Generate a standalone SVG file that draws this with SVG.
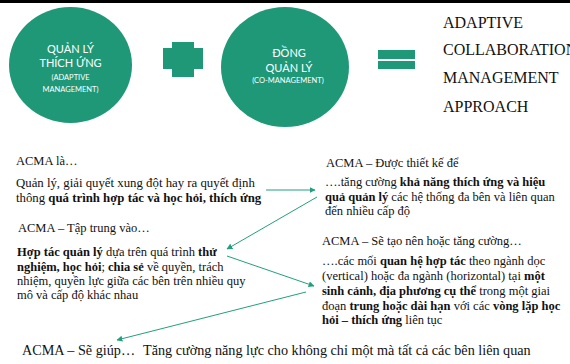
<svg xmlns="http://www.w3.org/2000/svg" width="570" height="364" viewBox="0 0 570 364">
<defs>
<style>
.circ{fill:#1f9878;}
.ct{font-family:Lato,"Open Sans","Liberation Sans",sans-serif;fill:#ffffff;text-anchor:middle;}
.big{font-size:11px;}
.sm{font-size:7.5px;}
.t{font-family:"Liberation Serif","Times New Roman",serif;fill:#111111;}
.h{font-size:12.5px;}
.b13{font-size:12.8px;}
.b14{font-size:14.2px;}
.bo{font-weight:bold;}
.r{font-family:"Liberation Serif","Times New Roman",serif;font-size:16px;fill:#111111;}
.con{stroke:#22a07c;stroke-width:1;fill:none;}
</style>
<marker id="ah" viewBox="0 0 10 10" refX="9" refY="5" markerWidth="6" markerHeight="6" markerUnits="userSpaceOnUse" orient="auto">
<path d="M0,0 L10,5 L0,10 z" fill="#22a07c"/>
</marker>
</defs>
<rect x="0" y="0" width="570" height="3" fill="#000000"/>
<g id="adaptive">
<ellipse class="circ" cx="70.5" cy="65" rx="61.5" ry="58"/>
<text class="ct big" x="70.5" y="53">QUẢN LÝ</text>
<text class="ct big" x="70.5" y="67">THÍCH ỨNG</text>
<text class="ct sm" x="70.5" y="80">(ADAPTIVE</text>
<text class="ct sm" x="70.5" y="92">MANAGEMENT)</text>
</g>
<g id="plus">
<path class="circ" d="M172,42 H194 V48 H203 V69 H194 V77 H172 V69 H163 V48 H172 Z"/>
</g>
<g id="co">
<ellipse class="circ" cx="285" cy="67" rx="64" ry="60"/>
<text class="ct big" x="289" y="57">ĐỒNG</text>
<text class="ct big" x="289" y="72">QUẢN LÝ</text>
<text class="ct sm" x="288" y="83">(CO-MANAGEMENT)</text>
</g>
<g id="equals">
<rect class="circ" x="378" y="50" width="37" height="9"/>
<rect class="circ" x="378" y="61" width="37" height="8"/>
</g>
<g id="acma-title">
<text class="r" x="443" y="28">ADAPTIVE</text>
<text class="r" x="443" y="55">COLLABORATION</text>
<text class="r" x="443" y="83">MANAGEMENT</text>
<text class="r" x="443" y="112">APPROACH</text>
</g>
<g id="acma-la">
<text class="t h" x="16" y="165">ACMA là…</text>
<text class="t b13" x="16" y="187">Quản lý, giải quyết xung đột hay ra quyết định</text>
<text class="t b13" x="16" y="202">thông <tspan class="bo">quá trình hợp tác và học hỏi, thích ứng</tspan></text>
</g>
<g id="acma-tap-trung">
<text class="t h" x="18" y="232">ACMA – Tập trung vào…</text>
<text class="t h" x="17" y="256"><tspan class="bo">Hợp tác quản lý</tspan> dựa trên quá trình <tspan class="bo">thử</tspan></text>
<text class="t h" x="17" y="271"><tspan class="bo">nghiệm, học hỏi</tspan>; <tspan class="bo">chia sẻ</tspan> về quyền, trách</text>
<text class="t h" x="17" y="285">nhiệm, quyền lực giữa các bên trên nhiều quy</text>
<text class="t h" x="17" y="299">mô và cấp độ khác nhau</text>
</g>
<g id="acma-thiet-ke">
<text class="t h" x="326" y="167">ACMA – Được thiết kế để</text>
<text class="t h" x="325" y="186">….tăng cường <tspan class="bo">khả năng thích ứng và hiệu</tspan></text>
<text class="t h" x="325" y="201"><tspan class="bo">quả quản lý</tspan> các hệ thống đa bên và liên quan</text>
<text class="t h" x="325" y="215">đến nhiều cấp độ</text>
</g>
<g id="acma-tao-nen">
<text class="t h" x="322" y="245">ACMA – Sẽ tạo nên hoặc tăng cường…</text>
<text class="t h" x="322" y="265">….các mối <tspan class="bo">quan hệ hợp tác</tspan> theo ngành dọc</text>
<text class="t h" x="322" y="280">(vertical) hoặc đa ngành (horizontal) tại <tspan class="bo">một</tspan></text>
<text class="t h" x="322" y="295"><tspan class="bo">sinh cảnh, địa phương cụ thể</tspan> trong một giai</text>
<text class="t h" x="322" y="310">đoạn <tspan class="bo">trung hoặc dài hạn</tspan> với các <tspan class="bo">vòng lặp học</tspan></text>
<text class="t h" x="322" y="324"><tspan class="bo">hỏi – thích ứng</tspan> liên tục</text>
</g>
<g id="acma-giup">
<text class="t b14" x="22" y="355">ACMA – Sẽ giúp… <tspan x="143">Tăng cường năng lực cho không chỉ một mà tất cả các bên liên quan</tspan></text>
</g>
<g id="connectors">
<line class="con" x1="266" y1="190" x2="315" y2="190" stroke-width="2" stroke="#8fd3bf" marker-end="url(#ah)"/>
<line class="con" x1="317" y1="197" x2="227" y2="249" marker-end="url(#ah)"/>
<line class="con" x1="227" y1="256" x2="314" y2="286" marker-end="url(#ah)"/>
<line class="con" x1="306" y1="292" x2="117" y2="340" marker-end="url(#ah)"/>
</g>
</svg>
